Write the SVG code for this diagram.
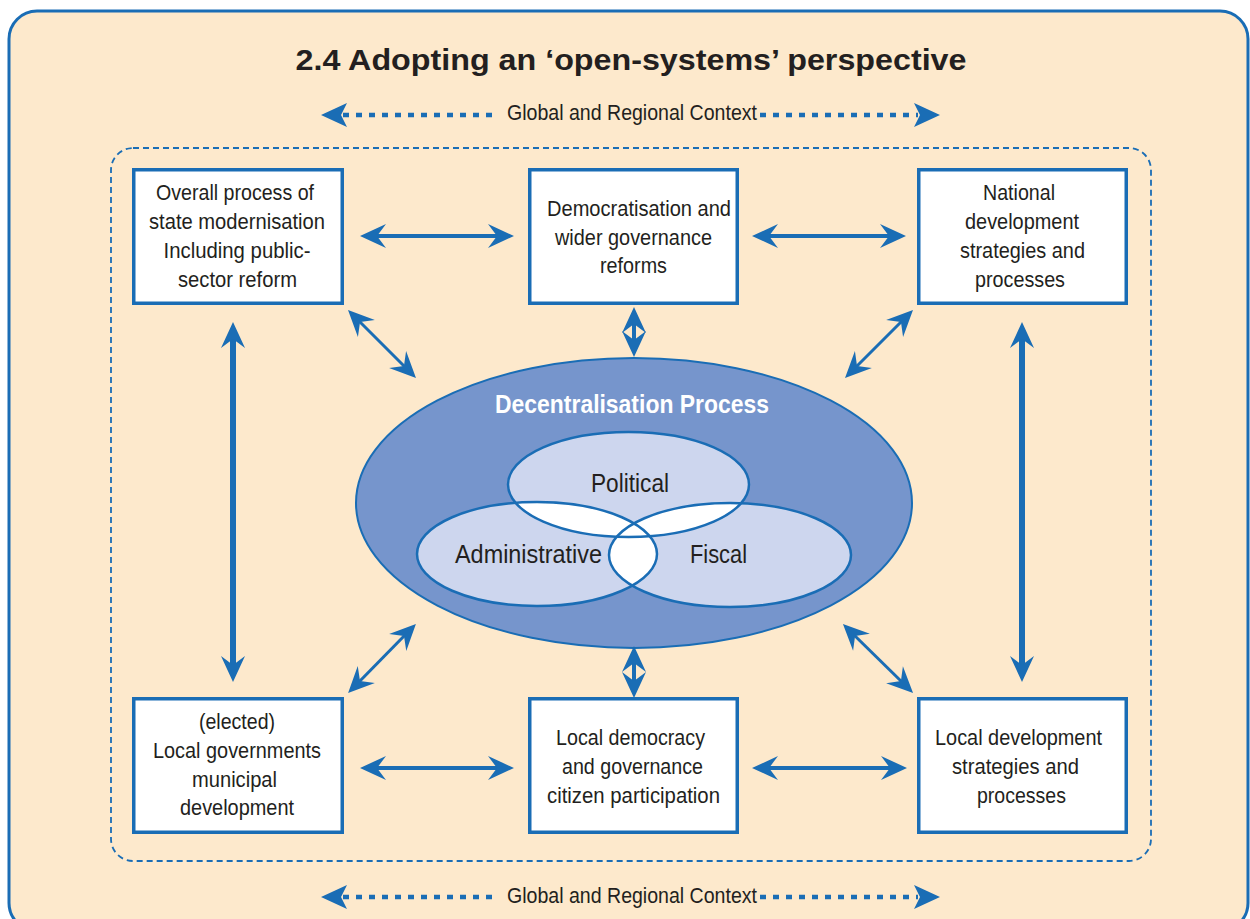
<svg xmlns="http://www.w3.org/2000/svg" width="1250" height="919" viewBox="0 0 1250 919">
<style>
.t{font-family:"Liberation Sans",Arial,sans-serif;fill:#231f20;font-size:22px;text-anchor:middle}
.box{fill:#fff;stroke:#1a6db5;stroke-width:3.5}
.ar{fill:none;stroke:#1a6db5;stroke-width:4;marker-start:url(#ah);marker-end:url(#ah)}
.dg{stroke-width:3}
.tk{stroke-width:6}
.dot{fill:none;stroke:#1a6db5;stroke-width:4.5;stroke-dasharray:6 7}
.venn{fill:#cdd6ee}
.vo{fill:none;stroke:#1a6db5;stroke-width:2.5}
</style>
<defs>
<marker id="ah" markerUnits="userSpaceOnUse" markerWidth="30" markerHeight="28" viewBox="-16 -14 30 28" refX="0" refY="0" orient="auto-start-reverse">
<path d="M12,0 L-14,-12 L-5,0 L-14,12 Z" fill="#1a6db5"/>
</marker>
<path id="dh" d="M0,0 L26,-12 L20,0 L26,12 Z" fill="#1a6db5"/>
<clipPath id="cpA"><ellipse cx="537" cy="554" rx="120" ry="52"/></clipPath>
<clipPath id="cpF"><ellipse cx="730" cy="555" rx="121" ry="52"/></clipPath>
</defs>
<rect x="0" y="0" width="1250" height="919" fill="#fff"/>
<rect x="9" y="11" width="1239" height="920" rx="28" fill="#fde9cc" stroke="#1a6db5" stroke-width="3"/>
<text class="t" x="631" y="70" style="font-weight:bold;font-size:30px" textLength="671" lengthAdjust="spacingAndGlyphs">2.4 Adopting an ‘open-systems’ perspective</text>
<rect x="111" y="148" width="1040" height="713" rx="22" fill="none" stroke="#1a6db5" stroke-width="1.8" stroke-dasharray="6 4"/>

<g id="context-top">
<line class="dot" x1="343" y1="115" x2="499" y2="115"/>
<line class="dot" x1="760" y1="115" x2="918" y2="115"/>
<use href="#dh" transform="translate(321,115)"/>
<use href="#dh" transform="translate(940,115) scale(-1,1)"/>
<text class="t" x="632" y="120" textLength="250" lengthAdjust="spacingAndGlyphs">Global and Regional Context</text>
</g>
<g id="context-bottom">
<line class="dot" x1="343" y1="897" x2="499" y2="897"/>
<line class="dot" x1="760" y1="897" x2="918" y2="897"/>
<use href="#dh" transform="translate(321,897)"/>
<use href="#dh" transform="translate(940,897) scale(-1,1)"/>
<text class="t" x="632" y="903" textLength="250" lengthAdjust="spacingAndGlyphs">Global and Regional Context</text>
</g>

<g id="decentralisation">
<ellipse cx="634" cy="503" rx="278" ry="145" fill="#7695cc" stroke="#1a6db5" stroke-width="2"/>
<text class="t" x="632" y="413" style="font-weight:bold;font-size:26px;fill:#fff" textLength="274" lengthAdjust="spacingAndGlyphs">Decentralisation Process</text>
<ellipse class="venn" cx="628.5" cy="484.5" rx="120.5" ry="52.5"/>
<ellipse class="venn" cx="537" cy="554" rx="120" ry="52"/>
<ellipse class="venn" cx="730" cy="555" rx="121" ry="52"/>
<ellipse cx="628.5" cy="484.5" rx="120.5" ry="52.5" fill="#fff" clip-path="url(#cpA)"/>
<ellipse cx="628.5" cy="484.5" rx="120.5" ry="52.5" fill="#fff" clip-path="url(#cpF)"/>
<ellipse cx="537" cy="554" rx="120" ry="52" fill="#fff" clip-path="url(#cpF)"/>
<ellipse class="vo" cx="628.5" cy="484.5" rx="120.5" ry="52.5"/>
<ellipse class="vo" cx="537" cy="554" rx="120" ry="52"/>
<ellipse class="vo" cx="730" cy="555" rx="121" ry="52"/>
<text class="t" x="630" y="492" style="font-size:26px" textLength="78" lengthAdjust="spacingAndGlyphs">Political</text>
<text class="t" x="528.5" y="563" style="font-size:26px" textLength="147" lengthAdjust="spacingAndGlyphs">Administrative</text>
<text class="t" x="718.5" y="563" style="font-size:26px" textLength="57" lengthAdjust="spacingAndGlyphs">Fiscal</text>
</g>

<g id="connectors">
<line class="ar" x1="372" y1="236" x2="502" y2="236"/>
<line class="ar" x1="764" y1="236" x2="894" y2="236"/>
<line class="ar" x1="372" y1="768" x2="502" y2="768"/>
<line class="ar" x1="764" y1="768" x2="895" y2="768"/>
<line class="ar tk" x1="233" y1="334" x2="233" y2="670"/>
<line class="ar tk" x1="1022" y1="334" x2="1022" y2="670"/>
<line class="ar" x1="634" y1="319" x2="634" y2="345"/>
<line class="ar" x1="634" y1="658" x2="634" y2="686"/>
<line class="ar dg" x1="356.5" y1="318.5" x2="407.5" y2="369.5"/>
<line class="ar dg" x1="904.5" y1="318.5" x2="853.5" y2="369.5"/>
<line class="ar dg" x1="407.5" y1="632.5" x2="356.5" y2="684.5"/>
<line class="ar dg" x1="851.5" y1="632.5" x2="904.5" y2="684.5"/>
</g>

<g id="box-state">
<rect class="box" x="133.75" y="169.75" width="208.5" height="133.5"/>
<text class="t" x="235" y="200" textLength="158" lengthAdjust="spacingAndGlyphs">Overall process of</text>
<text class="t" x="237" y="229" textLength="176" lengthAdjust="spacingAndGlyphs">state modernisation</text>
<text class="t" x="237" y="258" textLength="147" lengthAdjust="spacingAndGlyphs">Including public-</text>
<text class="t" x="237.5" y="287" textLength="119" lengthAdjust="spacingAndGlyphs">sector reform</text>
</g>
<g id="box-democratisation">
<rect class="box" x="529.75" y="169.75" width="207.5" height="133.5"/>
<text class="t" x="639" y="216" textLength="184" lengthAdjust="spacingAndGlyphs">Democratisation and</text>
<text class="t" x="633.5" y="245" textLength="157" lengthAdjust="spacingAndGlyphs">wider governance</text>
<text class="t" x="633.5" y="273" textLength="67" lengthAdjust="spacingAndGlyphs">reforms</text>
</g>
<g id="box-national">
<rect class="box" x="918.75" y="169.75" width="207.5" height="133.5"/>
<text class="t" x="1019" y="200" textLength="72" lengthAdjust="spacingAndGlyphs">National</text>
<text class="t" x="1022" y="229" textLength="114" lengthAdjust="spacingAndGlyphs">development</text>
<text class="t" x="1022.5" y="258" textLength="125" lengthAdjust="spacingAndGlyphs">strategies and</text>
<text class="t" x="1020" y="287" textLength="90" lengthAdjust="spacingAndGlyphs">processes</text>
</g>
<g id="box-local-gov">
<rect class="box" x="133.75" y="698.75" width="208.5" height="133.5"/>
<text class="t" x="237" y="729" textLength="76" lengthAdjust="spacingAndGlyphs">(elected)</text>
<text class="t" x="237" y="758" textLength="168" lengthAdjust="spacingAndGlyphs">Local governments</text>
<text class="t" x="234.5" y="787" textLength="85" lengthAdjust="spacingAndGlyphs">municipal</text>
<text class="t" x="237" y="815" textLength="114" lengthAdjust="spacingAndGlyphs">development</text>
</g>
<g id="box-local-democracy">
<rect class="box" x="529.75" y="698.75" width="207.5" height="133.5"/>
<text class="t" x="630.5" y="745" textLength="149" lengthAdjust="spacingAndGlyphs">Local democracy</text>
<text class="t" x="632.5" y="774" textLength="141" lengthAdjust="spacingAndGlyphs">and governance</text>
<text class="t" x="633.5" y="803" textLength="173" lengthAdjust="spacingAndGlyphs">citizen participation</text>
</g>
<g id="box-local-dev">
<rect class="box" x="918.75" y="698.75" width="207.5" height="133.5"/>
<text class="t" x="1018.5" y="745" textLength="167" lengthAdjust="spacingAndGlyphs">Local development</text>
<text class="t" x="1015.5" y="774" textLength="127" lengthAdjust="spacingAndGlyphs">strategies and</text>
<text class="t" x="1021.5" y="803" textLength="89" lengthAdjust="spacingAndGlyphs">processes</text>
</g>
</svg>
